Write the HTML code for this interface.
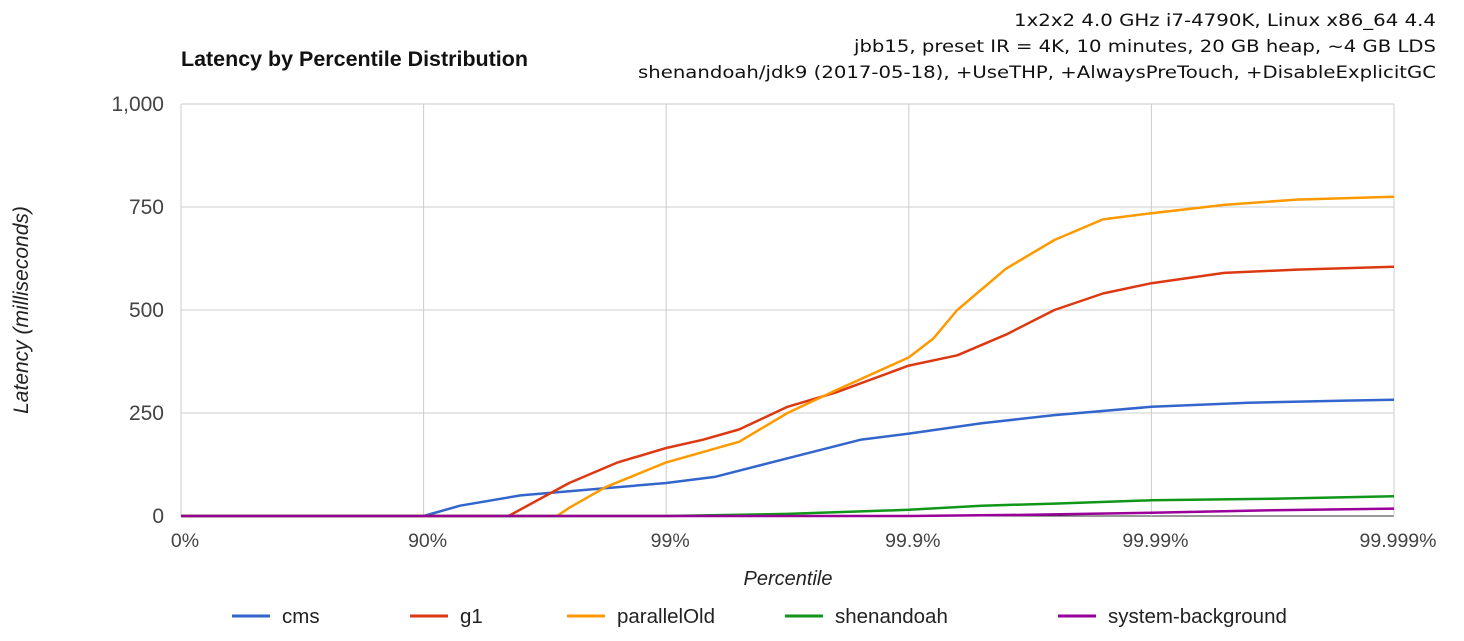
<!DOCTYPE html>
<html><head><meta charset="utf-8"><style>
body{margin:0;background:#fff;font-family:"Liberation Sans",sans-serif;}
svg text{font-family:"Liberation Sans",sans-serif;}
</style></head><body>
<svg id="chart" width="1464" height="636">
<text x="181" y="66" font-size="21" font-weight="bold" fill="#111" textLength="347" lengthAdjust="spacingAndGlyphs">Latency by Percentile Distribution</text>
<text x="1436" y="26" font-size="17" text-anchor="end" fill="#111" style="font-family:'DejaVu Sans',sans-serif" textLength="422" lengthAdjust="spacingAndGlyphs">1x2x2 4.0 GHz i7-4790K, Linux x86_64 4.4</text>
<text x="1436" y="52" font-size="17" text-anchor="end" fill="#111" style="font-family:'DejaVu Sans',sans-serif" textLength="582" lengthAdjust="spacingAndGlyphs">jbb15, preset IR = 4K, 10 minutes, 20 GB heap, ~4 GB LDS</text>
<text x="1436" y="78" font-size="17" text-anchor="end" fill="#111" style="font-family:'DejaVu Sans',sans-serif" textLength="798" lengthAdjust="spacingAndGlyphs">shenandoah/jdk9 (2017-05-18), +UseTHP, +AlwaysPreTouch, +DisableExplicitGC</text>
<g id="grid"></g><g id="series"></g><g id="axes"></g>
<text x="28" y="310" font-size="21" font-style="italic" fill="#222" text-anchor="middle" transform="rotate(-90 28 310)">Latency (milliseconds)</text>
<text x="788" y="585" font-size="20" font-style="italic" fill="#222" text-anchor="middle">Percentile</text>
<g id="legend"></g>
</svg>
<script>
const xTickLabels=["0%","90%","99%","99.9%","99.99%","99.999%"];
const yTicks=[0,250,500,750,1000];
const seriesNames=["cms","g1","parallelOld","shenandoah","system-background"];
const seriesColors=["#3366cc","#dc3912","#ff9900","#109618","#990099"];
const cmsX=[0,1,1.15,1.4,1.6,2,2.2,2.5,2.8,3,3.3,3.6,4,4.4,4.8,5];
const cmsY=[0,0,25,50,60,80,95,140,185,200,225,245,265,275,280,282];
const g1X=[0,1.35,1.6,1.8,2,2.15,2.3,2.5,2.7,3,3.2,3.4,3.6,3.8,4,4.3,4.6,5];
const g1Y=[0,0,80,130,165,185,210,265,300,365,390,440,500,540,565,590,598,605];
const poX=[0,1.55,1.6,1.75,2,2.3,2.5,2.7,3,3.1,3.2,3.4,3.6,3.8,4,4.3,4.6,5];
const poY=[0,0,20,70,130,180,250,305,385,430,500,600,670,720,735,755,768,775];
const shX=[0,2,2.5,3,3.3,3.6,4,4.5,5];
const shY=[0,0,5,15,25,30,38,42,48];
const sbX=[0,3,3.5,4,4.5,5];
const sbY=[0,0,3,8,14,18];
const allX=[cmsX,g1X,poX,shX,sbX], allY=[cmsY,g1Y,poY,shY,sbY];
const X0=181,X1=1394,Y0=516,Y1=104;
const sx=v=>X0+(X1-X0)*v/5, sy=v=>Y0-(Y0-Y1)*v/1000;
const NS="http://www.w3.org/2000/svg";
function mk(t,a,p){const e=document.createElementNS(NS,t);for(const k in a)e.setAttribute(k,a[k]);document.getElementById(p).appendChild(e);return e;}
yTicks.forEach(v=>{
 const l=mk("line",{x1:X0,x2:X1,y1:sy(v),y2:sy(v),stroke:v===0?"#333":"#ccc","stroke-width":1},"grid");
 
 
 const t=mk("text",{x:X0-17,y:sy(v)+7,"font-size":21,"text-anchor":"end",fill:"#444"},"axes");
 t.textContent=v.toLocaleString("en-US");
 
 
});
xTickLabels.forEach((s,i)=>{
 const l=mk("line",{x1:sx(i),x2:sx(i),y1:Y1,y2:Y0,stroke:"#ccc","stroke-width":1},"grid");
 
 
 const t=mk("text",{x:sx(i)+4,y:547,"font-size":19.5,"text-anchor":"middle",fill:"#444"},"axes");
 t.textContent=s;
 
 
});
allX.forEach((xs,si)=>{
 const d=xs.map((x,i)=>(i?"L":"M")+sx(x).toFixed(1)+","+sy(allY[si][i]).toFixed(1)).join("");
 const p=mk("path",{d:d,fill:"none",stroke:seriesColors[si],"stroke-width":2.5,"stroke-linejoin":"round"},"series");
 
 
});
const legX=[232,410,567,785,1058];
seriesNames.forEach((n,i)=>{
 const g=mk("g",{},"legend");
 
 
 const l=document.createElementNS(NS,"line");
 [["x1",legX[i]],["x2",legX[i]+38],["y1",616],["y2",616],["stroke",seriesColors[i]],["stroke-width",3]].forEach(a=>l.setAttribute(a[0],a[1]));
 g.appendChild(l);
 const t=document.createElementNS(NS,"text");
 [["x",legX[i]+50],["y",623],["font-size",20.5],["fill","#222"]].forEach(a=>t.setAttribute(a[0],a[1]));
 t.textContent=n;g.appendChild(t);
});
</script>
</body></html>
